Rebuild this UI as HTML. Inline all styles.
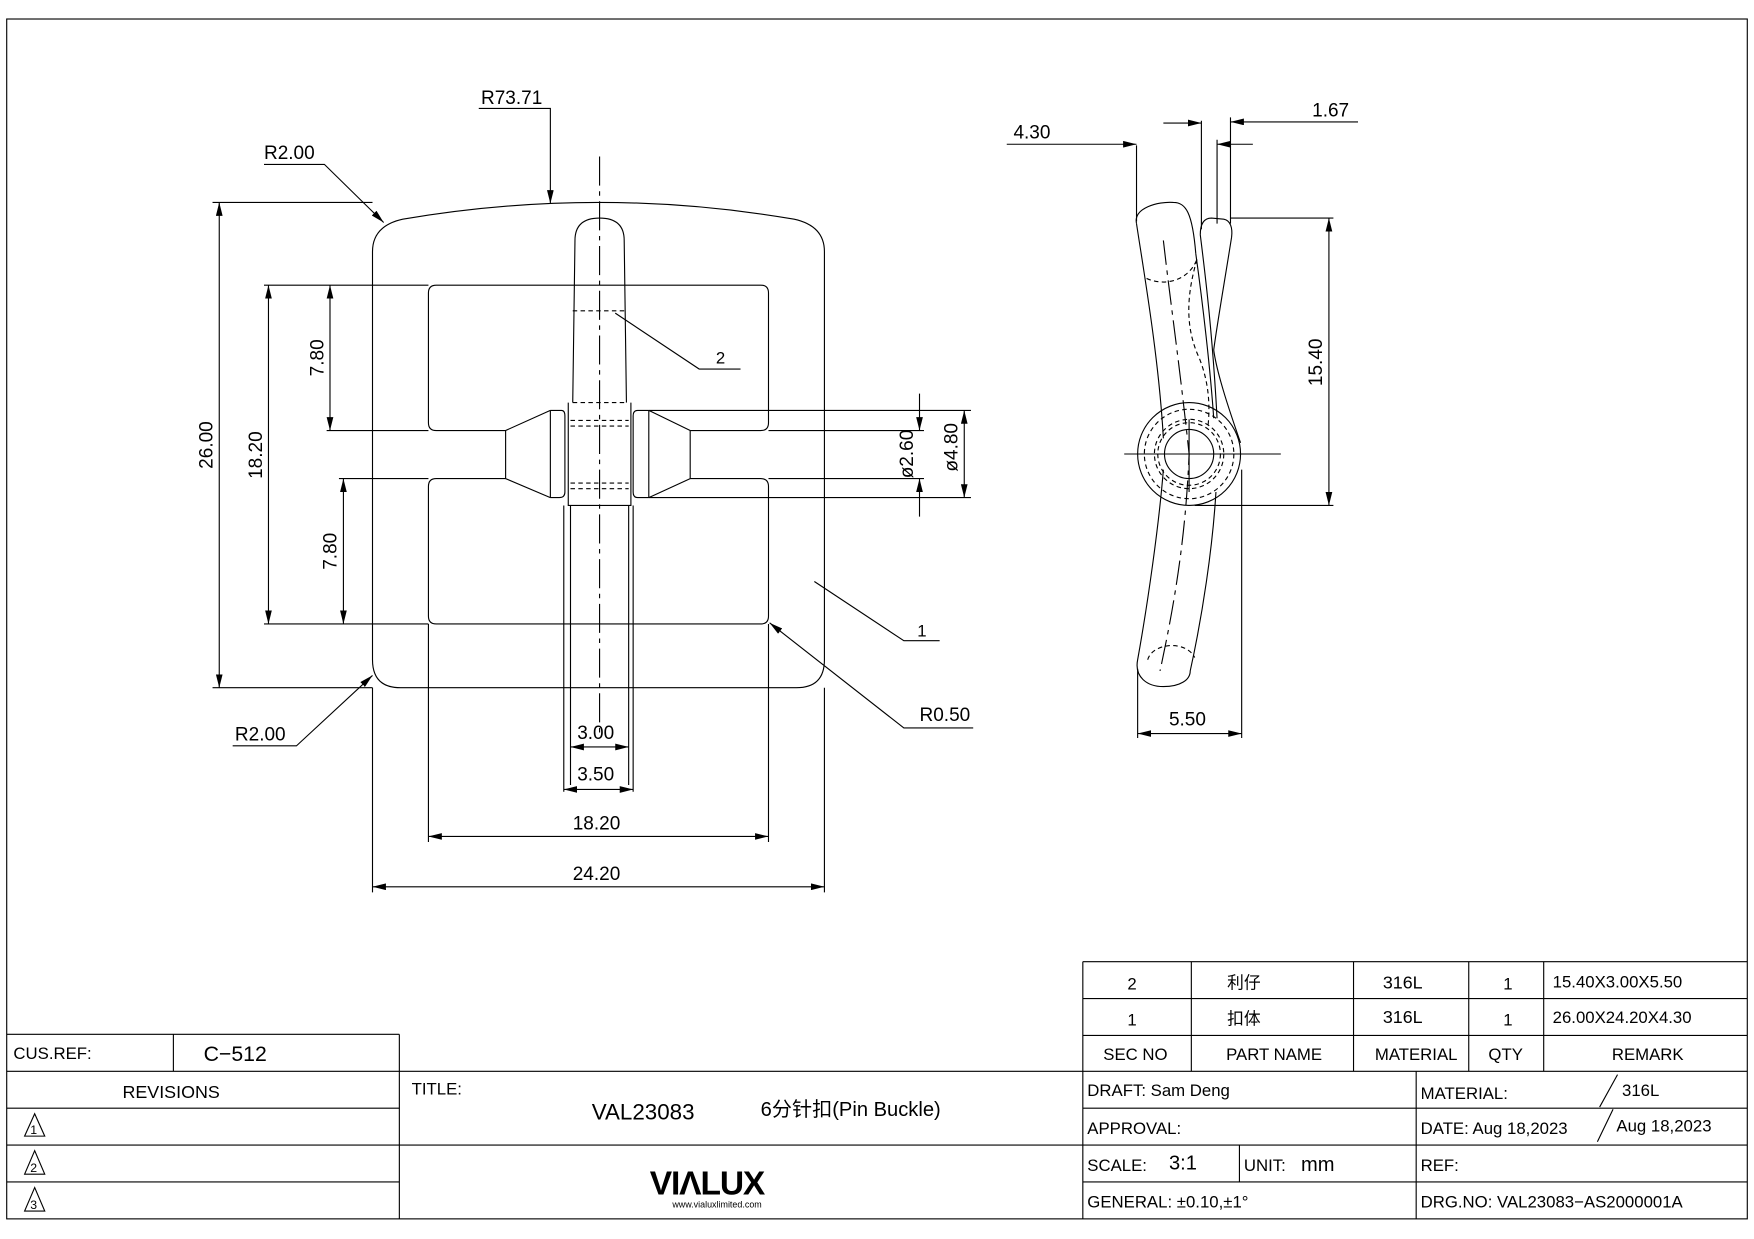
<!DOCTYPE html>
<html><head><meta charset="utf-8"><style>
html,body{margin:0;padding:0;background:#fff}
svg{display:block}
text{font-family:"Liberation Sans","Noto Sans CJK SC",sans-serif;fill:#000}
</style></head><body>
<svg width="1754" height="1239" viewBox="0 0 1568 1108" preserveAspectRatio="none" xmlns="http://www.w3.org/2000/svg">
<defs>
<marker id="a" viewBox="0 0 12 6" refX="12" refY="3" markerWidth="12" markerHeight="6" markerUnits="userSpaceOnUse" orient="auto-start-reverse"><path d="M0,0 L12,3 L0,6 Z" fill="#000"/></marker>
</defs>
<g fill="none" stroke="#000" stroke-width="1">
<rect x="6" y="17" width="1556" height="1073"/>

<!-- FRONT VIEW -->
<path d="M333,225 Q333,202 360,196 Q448,181 535,181 Q622,181 710,196 Q737,202 737,225 L737,590 Q737,615 712,615 L358,615 Q333,615 333,590 Z"/>
<path d="M452,385 L390,385 Q383,385 383,378 L383,262 Q383,255 390,255 L680,255 Q687,255 687,262 L687,378 Q687,385 680,385 L617,385"/>
<path d="M452,428 L390,428 Q383,428 383,435 L383,551 Q383,558 390,558 L680,558 Q687,558 687,551 L687,435 Q687,428 680,428 L617,428"/>
<!-- bar -->
<path d="M452,385 L452,428 M452,385 L492,367 M452,428 L492,445 M492,367 L492,445 M492,367 L502,367 Q505,367 505,372 L505,440 Q505,445 500,445 L492,445"/>
<path d="M617,385 L617,428 M617,385 L580,367 M617,428 L580,445 M580,367 L580,445 M580,367 L570,367 Q566,367 566,372 L566,440 Q566,445 570,445 L580,445"/>
<!-- pin -->
<path d="M512,360 L514,215 Q514,195 536,195 Q558,195 558,215 L560,360"/>
<path d="M508,360 L508,452 L564,452 L564,360"/>
<path d="M510,452 L510,702 M562,452 L562,702 M504,452 L504,708 M566,452 L566,708"/>
<path d="M512,360 L560,360 M510,376 L562,376 M510,381 L562,381 M510,432 L562,432 M510,437 L562,437 M512,278 L560,278" stroke-dasharray="4,3"/>
<path d="M536,140 L536,660" stroke-dasharray="26,5,4,5"/>
<!-- dims front -->
<path d="M190,181 L333,181 M190,615 L333,615 M236,255 L383,255 M236,558 L383,558 M292,385 L383,385 M303,428 L383,428"/>
<path d="M196,181 L196,615" marker-start="url(#a)" marker-end="url(#a)"/>
<path d="M240,255 L240,558" marker-start="url(#a)" marker-end="url(#a)"/>
<path d="M295,255 L295,385" marker-start="url(#a)" marker-end="url(#a)"/>
<path d="M307,428 L307,558" marker-start="url(#a)" marker-end="url(#a)"/>
<path d="M333,615 L333,798 M737,615 L737,798 M383,558 L383,753 M687,558 L687,753"/>
<path d="M510,668 L562,668" marker-start="url(#a)" marker-end="url(#a)"/>
<path d="M504,706 L566,706" marker-start="url(#a)" marker-end="url(#a)"/>
<path d="M383,748 L687,748" marker-start="url(#a)" marker-end="url(#a)"/>
<path d="M333,793 L737,793" marker-start="url(#a)" marker-end="url(#a)"/>
<path d="M580,367 L868,367 M580,445 L868,445 M687,385 L826,385 M687,428 L826,428"/>
<path d="M822,352 L822,385" marker-end="url(#a)"/>
<path d="M822,462 L822,428" marker-end="url(#a)"/>
<path d="M862,367 L862,445" marker-start="url(#a)" marker-end="url(#a)"/>
<!-- leaders -->
<path d="M428,97 L492,97 L492,182" marker-end="url(#a)"/>
<path d="M236,147 L290,147 L343,199" marker-end="url(#a)"/>
<path d="M208,667 L265,667 L333,604" marker-end="url(#a)"/>
<path d="M870,651 L808,651 L688,557" marker-end="url(#a)"/>
<path d="M728,520 L808,573 L840,573"/>
<path d="M550,280 L625,330 L662,330"/>

<!-- SIDE VIEW -->
<path d="M1016,200 C1022,240 1036,320 1040,392"/>
<path d="M1016,200 C1013,186 1035,180 1049,181 C1060,181 1066,190 1069,227"/>
<path d="M1069,227 C1075,270 1082,330 1085,374"/>
<path d="M1025,249 C1040,256 1062,252 1070,232" stroke-dasharray="4,3"/>
<path d="M1073,210 C1073,198 1078,195 1083,195 L1094,196 C1100,197 1102,204 1101,212"/>
<path d="M1101,212 C1095,250 1088,290 1085,313"/>
<path d="M1085,313 C1088,335 1100,370 1109,396"/>
<path d="M1073,210 C1078,250 1084,300 1088,374"/>
<path d="M1070,232 C1062,260 1058,290 1072,320 C1080,340 1082,360 1080,380" stroke-dasharray="4,3"/>
<path d="M1040,420 C1036,470 1026,540 1017,590 C1014,605 1025,614 1040,614 C1055,614 1064,608 1064,600 C1075,550 1084,490 1087,440"/>
<path d="M1026,590 C1030,575 1060,572 1068,588" stroke-dasharray="4,3"/>
<circle cx="1063" cy="406" r="46"/>
<circle cx="1063" cy="406" r="22"/>
<circle cx="1063" cy="406" r="28" stroke-dasharray="4,3"/>
<circle cx="1063" cy="406" r="31" stroke-dasharray="4,3"/>
<circle cx="1063" cy="406" r="40" stroke-dasharray="4,3"/>
<path d="M1005,406 L1145,406"/>
<path d="M1063,375 L1063,440"/>
<path d="M1040,215 C1045,260 1055,330 1063,406 C1060,480 1050,540 1037,600" stroke-dasharray="22,5,4,5"/>
<!-- side dims -->
<path d="M1016,130 L1016,198 M1074,108 L1074,205 M1088,125 L1088,200 M1100,105 L1100,200"/>
<path d="M900,129 L1016,129" marker-end="url(#a)"/>
<path d="M1040,110 L1074,110" marker-end="url(#a)"/>
<path d="M1214,109 L1100,109" marker-end="url(#a)"/>
<path d="M1120,129 L1088,129" marker-end="url(#a)"/>
<path d="M1100,195 L1192,195 M1068,452 L1192,452"/>
<path d="M1188,195 L1188,452" marker-start="url(#a)" marker-end="url(#a)"/>
<path d="M1017,598 L1017,660 M1110,420 L1110,660"/>
<path d="M1017,656 L1110,656" marker-start="url(#a)" marker-end="url(#a)"/>

<!-- TITLE BLOCK -->
<path d="M968,860 L1562,860 M968,893 L1562,893 M968,926 L1562,926 M968,860 L968,1090"/>
<path d="M1065,860 L1065,958 M1210,860 L1210,958 M1313,860 L1313,958 M1380,860 L1380,958"/>
<path d="M6,925 L357,925 M155,925 L155,958 M357,925 L357,1090"/>
<path d="M6,958 L1562,958 M6,991 L357,991 M968,991 L1562,991 M6,1024 L1562,1024 M6,1057 L357,1057 M968,1057 L1562,1057"/>
<path d="M1266,958 L1266,1090 M1108,1024 L1108,1057"/>
<path d="M1446,961 L1430,990 M1442,992 L1428,1021"/>
<path d="M31,996 L22,1016 L40,1016 Z M31,1029 L22,1050 L40,1050 Z M31,1062 L22,1083 L40,1083 Z"/>
</g>

<g font-size="17">
<text x="430" y="93">R73.71</text>
<text x="236" y="142">R2.00</text>
<text x="210" y="662">R2.00</text>
<text x="822" y="645">R0.50</text>
<text x="820" y="569" font-size="15">1</text>
<text x="640" y="325" font-size="15">2</text>
<text x="516" y="661">3.00</text>
<text x="516" y="698">3.50</text>
<text x="512" y="742">18.20</text>
<text x="512" y="787">24.20</text>
<text transform="translate(190,398) rotate(-90)" text-anchor="middle">26.00</text>
<text transform="translate(234,407) rotate(-90)" text-anchor="middle">18.20</text>
<text transform="translate(289,320) rotate(-90)" text-anchor="middle">7.80</text>
<text transform="translate(301,493) rotate(-90)" text-anchor="middle">7.80</text>
<text transform="translate(816,406) rotate(-90)" text-anchor="middle">ø2.60</text>
<text transform="translate(856,400) rotate(-90)" text-anchor="middle">ø4.80</text>
<text x="906" y="124">4.30</text>
<text x="1173" y="104">1.67</text>
<text x="1045" y="649">5.50</text>
<text transform="translate(1182,324) rotate(-90)" text-anchor="middle">15.40</text>
</g>

<g font-size="15">
<text x="1012" y="885" text-anchor="middle">2</text>
<text x="1112" y="884" text-anchor="middle">利仔</text>
<text x="1254" y="884" text-anchor="middle" font-size="16">316L</text>
<text x="1348" y="885" text-anchor="middle">1</text>
<text x="1388" y="883">15.40X3.00X5.50</text>
<text x="1012" y="917" text-anchor="middle">1</text>
<text x="1112" y="916" text-anchor="middle">扣体</text>
<text x="1254" y="915" text-anchor="middle" font-size="16">316L</text>
<text x="1348" y="917" text-anchor="middle">1</text>
<text x="1388" y="915">26.00X24.20X4.30</text>
<text x="1015" y="948" text-anchor="middle">SEC NO</text>
<text x="1139" y="948" text-anchor="middle">PART NAME</text>
<text x="1266" y="948" text-anchor="middle">MATERIAL</text>
<text x="1346" y="948" text-anchor="middle">QTY</text>
<text x="1473" y="948" text-anchor="middle">REMARK</text>
<text x="12" y="947">CUS.REF:</text>
<text x="182" y="949" font-size="19">C−512</text>
<text x="153" y="982" text-anchor="middle" font-size="16">REVISIONS</text>
<text x="27" y="1014" font-size="11">1</text>
<text x="27" y="1048" font-size="11">2</text>
<text x="27" y="1081" font-size="11">3</text>
<text x="368" y="979">TITLE:</text>
<text x="529" y="1001" font-size="20">VAL23083</text>
<text x="680" y="998" font-size="18" font-family="Liberation Serif,'Noto Serif CJK SC',serif">6分针扣(Pin Buckle)</text>
<text x="632" y="1068" text-anchor="middle" font-size="30" font-weight="bold" letter-spacing="-1">VIΛLUX</text>
<text x="641" y="1080" text-anchor="middle" font-size="8">www.vialuxlimited.com</text>
<text x="972" y="980">DRAFT:  Sam  Deng</text>
<text x="972" y="1014">APPROVAL:</text>
<text x="972" y="1047">SCALE:</text>
<text x="1045" y="1046" font-size="18">3:1</text>
<text x="1112" y="1047">UNIT:</text>
<text x="1163" y="1047" font-size="18">mm</text>
<text x="972" y="1080">GENERAL:   ±0.10,±1°</text>
<text x="1270" y="983">MATERIAL:</text>
<text x="1450" y="980">316L</text>
<text x="1270" y="1014">DATE:  Aug  18,2023</text>
<text x="1445" y="1012">Aug  18,2023</text>
<text x="1270" y="1047">REF:</text>
<text x="1270" y="1080">DRG.NO:  VAL23083−AS2000001A</text>
</g>
</svg>
</body></html>
